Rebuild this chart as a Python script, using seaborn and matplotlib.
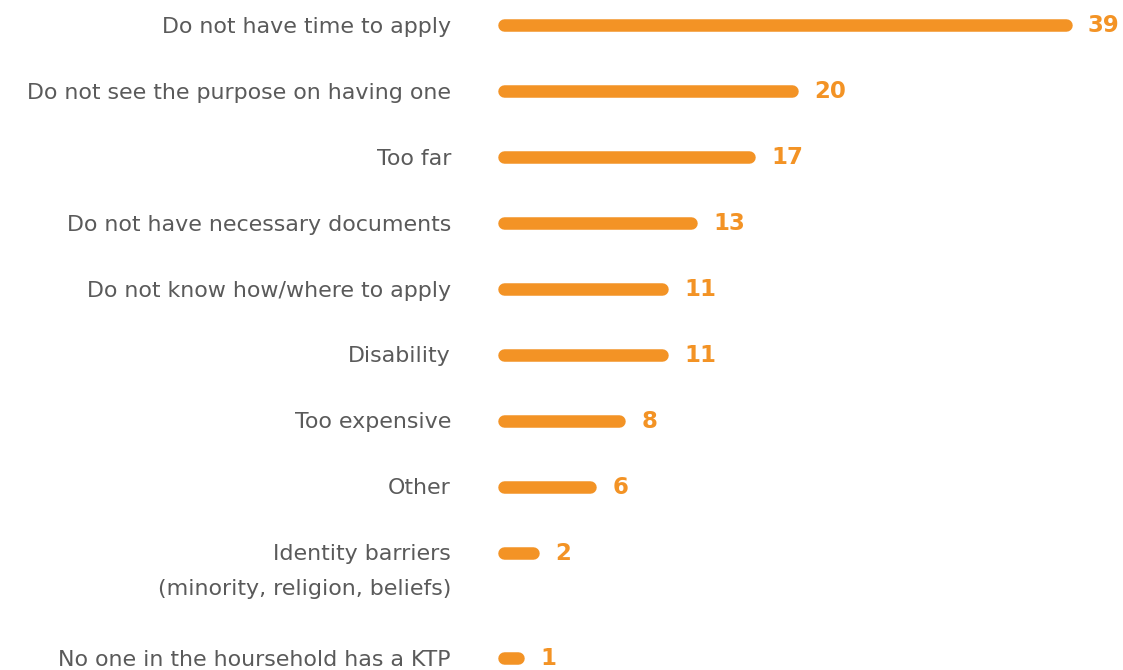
import matplotlib
matplotlib.use("Agg")
import matplotlib.pyplot as plt
import seaborn as sns
import pandas as pd

# Reasons for not holding the document, share of respondents (%)
reasons = [
    "Do not have time to apply",
    "Do not see the purpose on having one",
    "Too far",
    "Do not have necessary documents",
    "Do not know how/where to apply",
    "Disability",
    "Too expensive",
    "Other",
    "Identity barriers\n(minority, religion, beliefs)",
    "No one in the hoursehold has a KTP",
]
shares = [39, 20, 17, 13, 11, 11, 8, 6, 2, 1]

ORANGE = "#F39325"
TEXT = "#5A5A5A"

sns.set_theme(style="white")
plt.rcParams["font.family"] = ["DejaVu Sans"]

# Row positions: a wrapped label pushes the next row further down
positions = []
y = 0.0
for lab in reasons:
    positions.append(y)
    y += 1 + 0.6 * lab.count("\n")

W, H = 1123, 670
fig = plt.figure(figsize=(W / 100, H / 100), dpi=100)
left_px = 504
px_per_unit = 14.4
row_px = 65.94
ax = fig.add_axes([left_px / W, 0, 1 - left_px / W, 1])

df = pd.DataFrame({"reason": reasons, "share": shares, "pos": positions})
sns.barplot(data=df, x="share", y="pos", orient="h", native_scale=True,
            color=ORANGE, width=0.2, ax=ax)

# Replace the square bars with pill-shaped strokes of the same extent
for p in list(ax.patches):
    x0 = p.get_x()
    w = p.get_width()
    yc = p.get_y() + p.get_height() / 2
    ax.plot([x0, x0 + w], [yc, yc], color=ORANGE, lw=9,
            solid_capstyle="round", clip_on=False)
    p.remove()

# Value labels to the right of each bar
for v, p in zip(shares, positions):
    ax.annotate(str(v), xy=(v, p), xytext=(16.0, -5.3), textcoords="offset points",
                ha="left", va="baseline", color=ORANGE,
                fontsize=16.5, fontweight="bold", annotation_clip=False)

# Category labels; the first line sits level with the bar
for lab, p in zip(reasons, positions):
    for i, line in enumerate(lab.split("\n")):
        ax.annotate(line, xy=(0, p), xytext=(-38.2, -5.6 - 25.2 * i),
                    textcoords="offset points", ha="right", va="baseline",
                    color=TEXT, fontsize=15.9, annotation_clip=False)

ax.set_xlim(0, (W - left_px) / px_per_unit)
ax.set_ylim((H - 25) / row_px, -25 / row_px)
ax.set_xticks([])
ax.set_yticks([])
ax.set_xlabel("")
ax.set_ylabel("")
sns.despine(ax=ax, left=True, bottom=True)

fig.savefig("out.png", dpi=100, facecolor="white")
